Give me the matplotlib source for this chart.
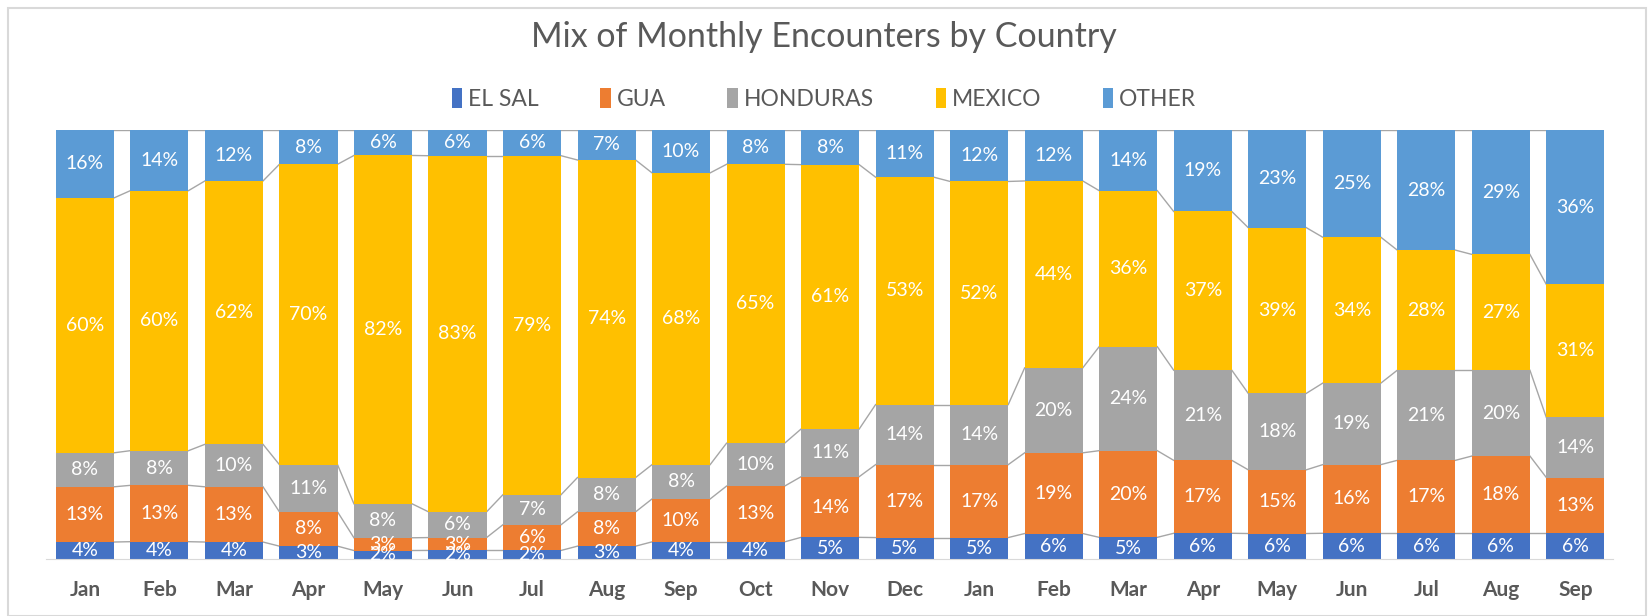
import numpy as np
import matplotlib.pyplot as plt
from matplotlib.patches import Rectangle

months = ['Jan','Feb','Mar','Apr','May','Jun','Jul','Aug','Sep','Oct','Nov','Dec',
          'Jan','Feb','Mar','Apr','May','Jun','Jul','Aug','Sep']
countries = ['EL SAL','GUA','HONDURAS','MEXICO','OTHER']
el_sal = [4,4,4,3,2,2,2,3,4,4,5,5,5,6,5,6,6,6,6,6,6]
gua = [13,13,13,8,3,3,6,8,10,13,14,17,17,19,20,17,15,16,17,18,13]
honduras = [8,8,10,11,8,6,7,8,8,10,11,14,14,20,24,21,18,19,21,20,14]
mexico = [60,60,62,70,82,83,79,74,68,65,61,53,52,44,36,37,39,34,28,27,31]
other = [16,14,12,8,6,6,6,7,10,8,8,11,12,12,14,19,23,25,28,29,36]
colors = ['#4472C4','#ED7D31','#A5A5A5','#FFC000','#5B9BD5']

plt.rcParams['font.family'] = ['Lato', 'DejaVu Sans']
vals = np.array([el_sal, gua, honduras, mexico, other], dtype=float)
shares = vals / vals.sum(axis=0)
cum = np.vstack([np.zeros(len(months)), np.cumsum(shares, axis=0)])
x = np.arange(len(months))
W = 0.78

fig = plt.figure(figsize=(16.48, 6.16), dpi=100)
ax = fig.add_axes([0.028, 0.0925, 0.951, 0.6965])
for k in range(len(countries)):
    ax.bar(x, shares[k], W, bottom=cum[k], color=colors[k], label=countries[k])
    for i in range(len(months)):
        ax.text(x[i], cum[k][i] + shares[k][i] / 2, f"{int(vals[k][i])}%",
                ha='center', va='center', color='white', fontsize=14)

# series lines between bars
for k in range(1, len(countries) + 1):
    for i in range(len(months) - 1):
        ax.plot([x[i] + W / 2, x[i + 1] - W / 2], [cum[k][i], cum[k][i + 1]],
                color='#A6A6A6', lw=1, zorder=0.5)

ax.set_xlim(-0.52, 20.51)
ax.set_ylim(0, 1)
ax.set_yticks([])
ax.set_xticks(x)
ax.set_xticklabels(months, fontsize=15, fontweight='bold', color='#595959')
ax.tick_params(axis='x', length=0, pad=15)
for s in ['top', 'left', 'right']:
    ax.spines[s].set_visible(False)
ax.spines['bottom'].set_color('#D9D9D9')

fig.text(0.5, 0.94, 'Mix of Monthly Encounters by Country', ha='center', va='center',
         fontsize=24.5, color='#595959')
fig.legend(loc='center', bbox_to_anchor=(0.5, 0.84), ncol=5, frameon=False,
           fontsize=16.5, labelcolor='#595959', handlelength=0.45, handleheight=1.0,
           handletextpad=0.25, columnspacing=2.7)
fig.patches.append(Rectangle((8 / 1648, 0), 1638 / 1648, 608 / 616, transform=fig.transFigure,
                             fill=False, edgecolor='#D9D9D9', lw=1.5))

plt.savefig('out.png', dpi=100)
